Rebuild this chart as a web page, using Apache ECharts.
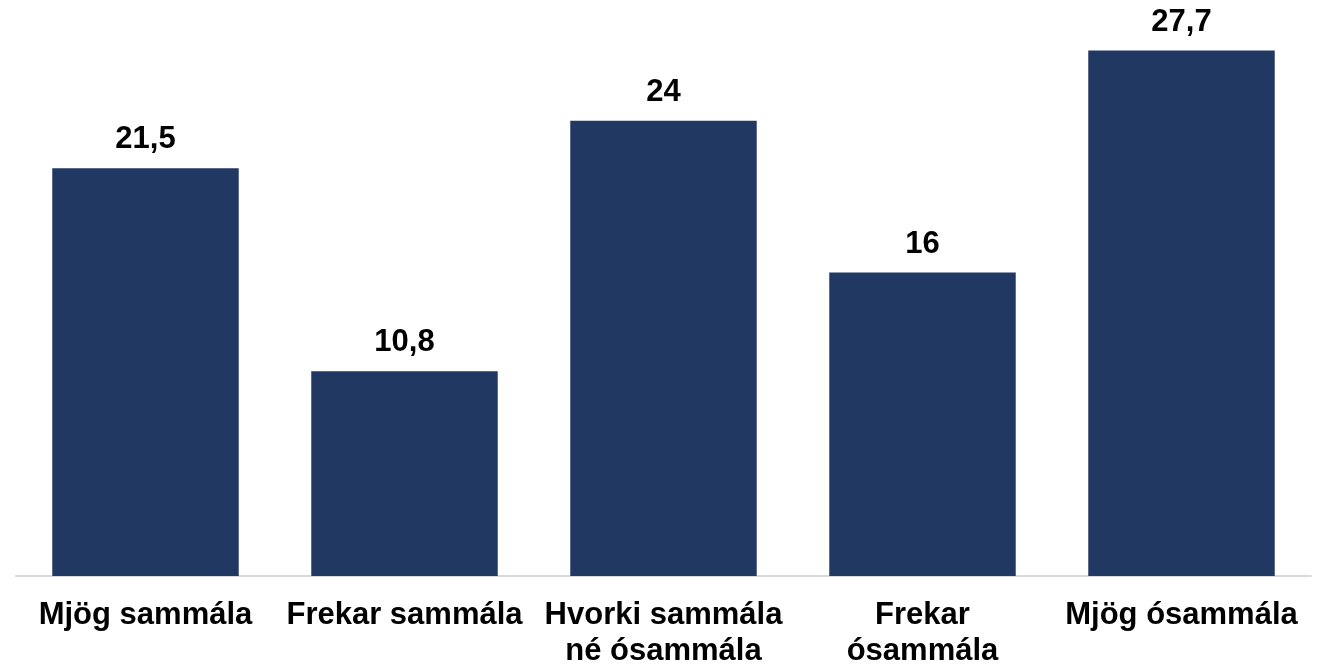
<!DOCTYPE html>
<html>
<head>
<meta charset="utf-8">
<script src="https://cdn.jsdelivr.net/npm/echarts@6/dist/echarts.min.js"></script>
<style>
html,body{margin:0;padding:0;background:#fff;}
#chart{width:1325px;height:664px;}
</style>
</head>
<body>
<div id="chart"></div>
<script>
const categories = ["Mjög sammála", "Frekar sammála", "Hvorki sammála\nné ósammála", "Frekar\nósammála", "Mjög ósammála"];
const values = [21.5, 10.8, 24, 16, 27.7];

const chart = echarts.init(document.getElementById('chart'), null, {renderer: 'canvas'});
chart.setOption({
  animation: false,
  backgroundColor: '#ffffff',
  grid: {left: 16, right: 14, top: 7, bottom: 88, containLabel: false, outerBoundsMode: 'none'},
  xAxis: {
    type: 'category',
    data: categories,
    axisTick: {show: false},
    axisLine: {show: true, lineStyle: {color: '#d9d9d9', width: 2}},
    axisLabel: {
      interval: 0,
      margin: 21,
      color: '#000000',
      fontFamily: '"Liberation Sans", Arial, sans-serif',
      fontWeight: 'bold',
      fontSize: 31,
      lineHeight: 36
    }
  },
  yAxis: {
    type: 'value',
    min: 0,
    max: 30,
    show: false,
    splitLine: {show: false}
  },
  series: [{
    type: 'bar',
    data: values,
    barCategoryGap: '28%',
    itemStyle: {color: '#213863'},
    label: {
      show: true,
      position: 'top',
      distance: 13,
      color: '#000000',
      fontFamily: '"Liberation Sans", Arial, sans-serif',
      fontWeight: 'bold',
      fontSize: 31,
      formatter: p => String(p.value).replace('.', ',')
    }
  }]
});
</script>
</body>
</html>
